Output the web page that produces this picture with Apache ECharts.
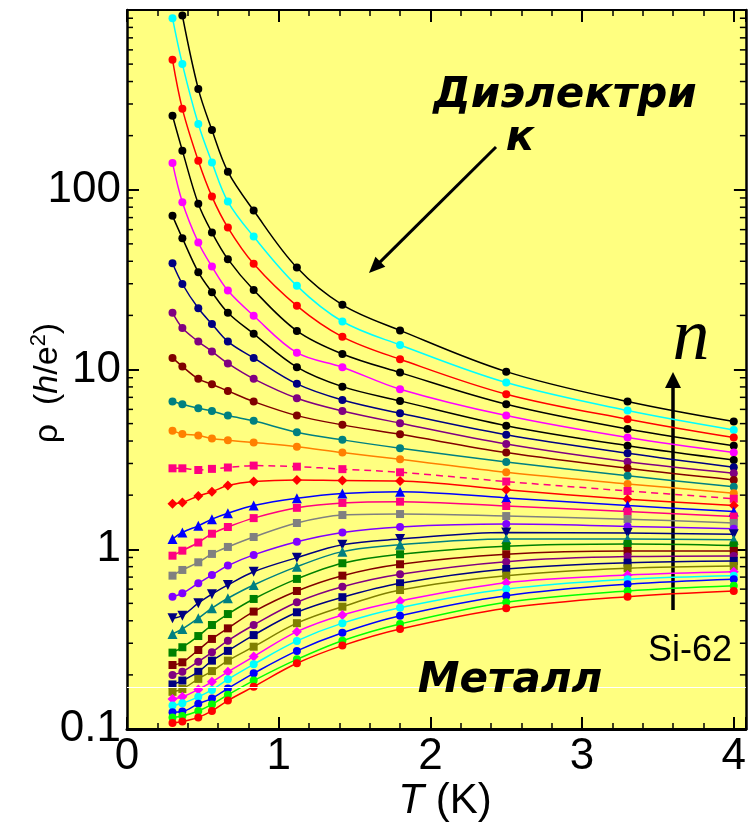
<!DOCTYPE html>
<html><head><meta charset="utf-8">
<script src="https://cdn.jsdelivr.net/npm/echarts@6/dist/echarts.min.js"></script>
<style>html,body{margin:0;padding:0;background:#fff}#c{width:749px;height:825px}</style>
</head><body><div id="c"></div>
<script>
// ---------- data ----------
const T = [0.3, 0.365, 0.47, 0.56, 0.665, 0.835, 1.12, 1.42, 1.8, 2.5, 3.3, 4.0];

const rho01 = [null, 932, 364, 215, 126, 76.6, 36.9, 22.9, 16.5, 9.73, 6.63, 5.13];
const rho02 = [901, 500, 232, 142, 86, 54.9, 29.2, 18.5, 13.7, 8.46, 5.91, 4.61];
const rho03 = [528, 282, 145, 91.6, 61.6, 38.7, 22.6, 15.2, 11.4, 7.29, 5.29, 4.18];
const rho04 = [258, 165, 83.5, 57.8, 41.1, 27.7, 16.4, 12.2, 9.61, 6.41, 4.67, 3.77];
const rho05 = [141, 85.3, 50.9, 37.4, 27.5, 19.9, 12.4, 10.3, 7.77, 5.54, 4.18, 3.45];
const rho06 = [71.6, 53.8, 34.8, 26.9, 20.7, 15.8, 10.3, 8.03, 6.69, 4.87, 3.77, 3.14];
const rho07 = [39.0, 29.9, 21.9, 17.9, 14.3, 11.6, 8.32, 6.77, 5.71, 4.33, 3.42, 2.86];
const rho08 = [20.7, 17.0, 14.3, 12.6, 10.8, 8.87, 6.92, 5.88, 5.03, 3.85, 3.07, 2.65];
const rho09 = [11.6, 10.4, 8.87, 8.28, 7.6, 6.63, 5.54, 4.92, 4.36, 3.45, 2.82, 2.43];
const rho10 = [6.63, 6.41, 6.09, 5.88, 5.54, 5.18, 4.48, 4.06, 3.65, 3.06, 2.56, 2.23];
const rho11 = [4.57, 4.38, 4.29, 4.13, 4.04, 3.92, 3.72, 3.45, 3.17, 2.68, 2.31, 2.05];
const rho12 = [2.82, 2.82, 2.76, 2.80, 2.85, 2.92, 2.88, 2.79, 2.68, 2.38, 2.11, 1.91];
const rho13 = [1.79, 1.82, 1.98, 2.09, 2.26, 2.38, 2.43, 2.41, 2.40, 2.14, 1.90, 1.75];
const rho14 = [1.14, 1.24, 1.35, 1.47, 1.585, 1.75, 1.92, 2.04, 2.09, 1.93, 1.75, 1.62];
const rho15 = [0.921, 0.982, 1.09, 1.22, 1.33, 1.49, 1.70, 1.81, 1.84, 1.74, 1.62, 1.52];
const rho16 = [0.713, 0.767, 0.846, 0.942, 1.03, 1.17, 1.40, 1.55, 1.57, 1.53, 1.47, 1.40];
const rho17 = [0.545, 0.569, 0.647, 0.719, 0.811, 0.93, 1.10, 1.24, 1.33, 1.38, 1.34, 1.30];
const rho18 = [0.413, 0.427, 0.501, 0.562, 0.633, 0.75, 0.898, 1.06, 1.14, 1.24, 1.23, 1.21];
const rho19 = [0.338, 0.36, 0.413, 0.47, 0.534, 0.633, 0.80, 0.97, 1.06, 1.14, 1.14, 1.13];
const rho20 = [0.266, 0.285, 0.329, 0.379, 0.436, 0.529, 0.684, 0.836, 0.938, 1.04, 1.07, 1.05];
const rho21 = [0.227, 0.235, 0.275, 0.317, 0.363, 0.45, 0.586, 0.713, 0.825, 0.938, 0.978, 0.978];
const rho22 = [0.20, 0.208, 0.237, 0.267, 0.31, 0.379, 0.507, 0.619, 0.726, 0.853, 0.91, 0.918];
const rho23 = [0.177, 0.186, 0.208, 0.24, 0.272, 0.333, 0.446, 0.541, 0.647, 0.777, 0.842, 0.861];
const rho24 = [0.161, 0.167, 0.19, 0.21, 0.24, 0.287, 0.388, 0.479, 0.593, 0.713, 0.784, 0.807];
const rho25 = [0.147, 0.151, 0.166, 0.183, 0.208, 0.253, 0.348, 0.431, 0.516, 0.652, 0.719, 0.75];
const rho26 = [0.135, 0.139, 0.151, 0.165, 0.189, 0.229, 0.309, 0.388, 0.473, 0.601, 0.681, 0.713];
const rho27 = [0.124, 0.125, 0.138, 0.148, 0.168, 0.204, 0.272, 0.343, 0.427, 0.552, 0.639, 0.681];
const rho28 = [0.116, 0.118, 0.126, 0.137, 0.155, 0.186, 0.244, 0.31, 0.384, 0.507, 0.586, 0.627];
const rho29 = [0.108, 0.11, 0.116, 0.126, 0.144, 0.172, 0.232, 0.291, 0.36, 0.47, 0.545, 0.586];

const xTickVals = [0, 1, 2, 3, 4];
const xTickLabels = ['0', '1', '2', '3', '4'];
const yTickVals = [0.1, 1, 10, 100];
const yTickLabels = ['0.1', '1', '10', '100'];
const whiteLevel = 0.172;

// ---------- styles ----------
const styles = [
  {c:'#000000', s:'circle'}, {c:'#00ffff', s:'circle'}, {c:'#ff0000', s:'circle'},
  {c:'#000000', s:'circle'}, {c:'#ff00ff', s:'circle'}, {c:'#000000', s:'circle'},
  {c:'#000080', s:'circle'}, {c:'#800080', s:'circle'}, {c:'#800000', s:'circle'},
  {c:'#008080', s:'circle'}, {c:'#ff8000', s:'circle'}, {c:'#ff0080', s:'rect', d:true},
  {c:'#ff0000', s:'diamond'}, {c:'#0000ff', s:'triangle'}, {c:'#ff0080', s:'rect'},
  {c:'#808080', s:'rect'}, {c:'#8000ff', s:'circle'}, {c:'#000080', s:'triangle', r:180},
  {c:'#008080', s:'triangle'}, {c:'#008000', s:'rect'}, {c:'#800000', s:'rect'},
  {c:'#800080', s:'circle'}, {c:'#000080', s:'rect'}, {c:'#808000', s:'rect'},
  {c:'#ff00ff', s:'diamond'}, {c:'#00ffff', s:'circle'}, {c:'#0000ff', s:'circle'},
  {c:'#00ff00', s:'circle'}, {c:'#ff0000', s:'circle'}
];
const allRho = [rho01,rho02,rho03,rho04,rho05,rho06,rho07,rho08,rho09,rho10,rho11,rho12,rho13,rho14,rho15,
  rho16,rho17,rho18,rho19,rho20,rho21,rho22,rho23,rho24,rho25,rho26,rho27,rho28,rho29];

const XMAX = 4.08;
const symSize = {circle: 8, rect: 8, triangle: 10, diamond: 10};

const series = allRho.map((arr, i) => {
  const st = styles[i];
  const pts = [];
  T.forEach((t, j) => { if (arr[j] != null) pts.push([t, arr[j]]); });
  return {
    type: 'line', xAxisIndex: 0, yAxisIndex: 0, data: pts,
    smooth: 0.35, symbol: st.s, symbolSize: symSize[st.s], symbolRotate: st.r || 0,
    showSymbol: true, showAllSymbol: true, silent: true, animation: false, z: 3,
    lineStyle: {color: st.c, width: 1.5, type: st.d ? [7, 5] : 'solid'},
    itemStyle: {color: st.c, borderWidth: 0}
  };
});

// white reference line
series.unshift({
  type: 'line', data: [], z: 1, silent: true, animation: false,
  markLine: {silent: true, symbol: ['none', 'none'], label: {show: false}, animation: false,
    lineStyle: {color: '#ffffff', width: 1.2, type: 'solid'}, data: [{yAxis: whiteLevel}]}
});

// logarithmic minor ticks (2..9 x 10^k) on left and right edges
const minorVals = [];
for (let k = -1; k < 3; k++) for (let m = 2; m <= 9; m++) minorVals.push(m * Math.pow(10, k));
series.push({
  type: 'custom', coordinateSystem: 'cartesian2d', silent: true, z: 10, animation: false,
  data: minorVals.map(v => [0, v]),
  renderItem: function (params, api) {
    const v = api.value(1);
    const pL = api.coord([0, v]);
    const pR = api.coord([XMAX, v]);
    return {type: 'group', children: [
      {type: 'line', shape: {x1: pL[0], y1: pL[1], x2: pL[0] + 6, y2: pL[1]}, style: {stroke: '#000', lineWidth: 1.5}},
      {type: 'line', shape: {x1: pR[0], y1: pR[1], x2: pR[0] - 6, y2: pR[1]}, style: {stroke: '#000', lineWidth: 1.5}}
    ]};
  }
});

const fontNum = '"Liberation Sans", Arial, sans-serif';
const fontTick = '"Liberation Sans Narrow", "Arial Narrow", "Liberation Sans", sans-serif';
const xFmt = v => { const i = xTickVals.indexOf(Math.round(v * 1000) / 1000); return i >= 0 ? xTickLabels[i] : ''; };
const yFmt = v => { const i = yTickVals.findIndex(t => Math.abs(t - v) / t < 1e-6); return i >= 0 ? yTickLabels[i] : ''; };

function axisX(pos, labels) {
  return {
    type: 'value', position: pos, min: 0, max: XMAX, interval: 1,
    axisLine: {show: true, onZero: false, lineStyle: {color: '#000', width: pos === 'bottom' ? 3 : 2}},
    axisTick: {show: true, inside: true, length: 12, lineStyle: {color: '#000', width: 2}},
    minorTick: {show: true, splitNumber: 5, length: 6, lineStyle: {color: '#000', width: 1.5}},
    splitLine: {show: false},
    axisLabel: {show: labels, formatter: xFmt, color: '#000', fontSize: 44, fontFamily: fontTick, margin: 6}
  };
}
function axisY(pos, labels) {
  return {
    type: 'log', logBase: 10, position: pos, min: 0.1, max: 1000,
    axisLine: {show: true, onZero: false, lineStyle: {color: '#000', width: 2.5}},
    axisTick: {show: true, inside: true, length: 12, lineStyle: {color: '#000', width: 2}},
    splitLine: {show: false},
    axisLabel: {show: labels, formatter: yFmt, color: '#000', fontSize: 44, fontFamily: fontTick, margin: 6}
  };
}

function arrow(x1, y1, x2, y2, lw, len, hw) {
  const dx = x2 - x1, dy = y2 - y1, L = Math.hypot(dx, dy);
  const ux = dx / L, uy = dy / L, px = -uy, py = ux;
  const bx = x2 - ux * len, by = y2 - uy * len;
  return {type: 'group', children: [
    {type: 'line', shape: {x1: x1, y1: y1, x2: bx + ux * 2, y2: by + uy * 2}, style: {stroke: '#000', lineWidth: lw}},
    {type: 'polygon', shape: {points: [[x2, y2], [bx + px * hw, by + py * hw], [bx - px * hw, by - py * hw]]}, style: {fill: '#000'}}
  ]};
}

const bold = '"DejaVu Sans", Verdana, sans-serif';

const option = {
  animation: false,
  backgroundColor: '#ffffff',
  grid: {left: 127, top: 10, width: 624, height: 719, show: true, backgroundColor: '#ffff80', borderWidth: 0},
  xAxis: [axisX('bottom', true), axisX('top', false)],
  yAxis: [axisY('left', true), axisY('right', false)],
  series: series,
  graphic: [
    {type: 'text', z: 20, x: 565, y: 96, style: {text: 'Диэлектри', fontFamily: bold, fontSize: 42, fontWeight: 'bold', fontStyle: 'italic', fill: '#000', align: 'center', verticalAlign: 'middle'}},
    {type: 'text', z: 20, x: 520, y: 139, style: {text: 'к', fontFamily: bold, fontSize: 42, fontWeight: 'bold', fontStyle: 'italic', fill: '#000', align: 'center', verticalAlign: 'middle'}},
    {type: 'text', z: 20, x: 510, y: 681, style: {text: 'Металл', fontFamily: bold, fontSize: 42, fontWeight: 'bold', fontStyle: 'italic', fill: '#000', align: 'center', verticalAlign: 'middle'}},
    {type: 'text', z: 20, x: 691, y: 340, style: {text: 'n', fontFamily: '"Liberation Serif", "DejaVu Serif", serif', fontSize: 74, fontStyle: 'italic', fill: '#000', align: 'center', verticalAlign: 'middle'}},
    {type: 'text', z: 20, x: 690, y: 651, style: {text: 'Si-62', fontFamily: fontNum, fontSize: 36, fill: '#000', align: 'center', verticalAlign: 'middle'}},
    {type: 'text', z: 20, x: 445, y: 801, style: {text: '{i|T} (K)', fontFamily: fontTick, fontSize: 42, fill: '#000', align: 'center', verticalAlign: 'middle',
      rich: {i: {fontStyle: 'italic', fontFamily: fontTick, fontSize: 42}}}},
    {type: 'text', z: 20, x: 48, y: 383, rotation: Math.PI / 2, style: {
      text: '{n|ρ  (}{i|h}{n|/e}{s|2}{n|)}', fontFamily: fontNum, fontSize: 34, fill: '#000', align: 'center', verticalAlign: 'middle',
      rich: {
        n: {fontFamily: fontNum, fontSize: 34, lineHeight: 40, verticalAlign: 'middle'},
        i: {fontFamily: fontNum, fontSize: 34, lineHeight: 40, fontStyle: 'italic', verticalAlign: 'middle'},
        s: {fontFamily: fontNum, fontSize: 22, lineHeight: 22, verticalAlign: 'top'}
      }}},
    Object.assign(arrow(496, 147, 369, 273, 3, 16, 7), {z: 20}),
    Object.assign(arrow(673, 610, 673, 372, 3.5, 16, 8), {z: 20})
  ]
};

const chart = echarts.init(document.getElementById('c'));
chart.setOption(option);
</script>
</body></html>
